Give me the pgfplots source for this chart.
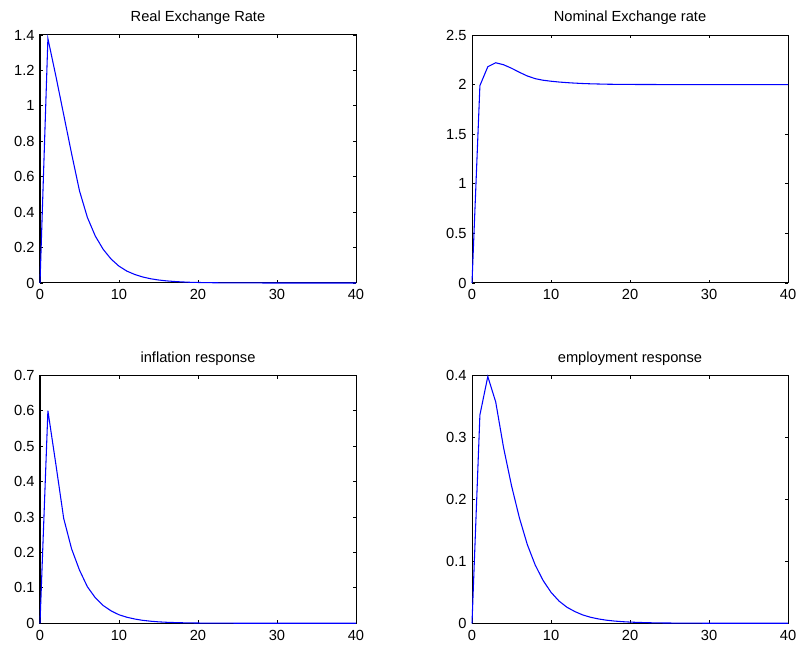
\documentclass[border=0pt]{standalone}
\usepackage{fontspec}
\setmainfont{Liberation Sans}
\usepackage{pgfplots}
\pgfplotsset{compat=1.18}

\pgfplotsset{
  irf/.style={
    scale only axis,
    width=237pt, height=186pt,
    anchor=south west,
    xmin=0, xmax=40,
    xtick={0,10,20,30,40},
    tick align=inside,
    major tick length=2.5pt,
    axis line style={line width=0.75pt},
    every tick/.style={black, line width=0.6pt},
    font=\fontsize{11}{13}\selectfont,
    /pgf/number format/assume math mode=true,
    yticklabel style={/pgf/number format/fixed, xshift=-0.5pt},
    xticklabel style={yshift=-1.5pt},
    title style={yshift=-2pt},
    clip=false,
  },
  resp/.style={blue, line width=0.8pt, mark=none},
}

\begin{document}
\begin{tikzpicture}
\path[use as bounding box] (0,0) rectangle (600pt,488.25pt);

% top left
\begin{axis}[irf, at={(30pt,276pt)}, title={Real Exchange Rate},
  ymin=0, ymax=1.4, ytick={0,0.2,...,1.4}]
\addplot[resp] coordinates {
 (0,0) (1,1.38) (2,1.17) (3,0.95) (4,0.73) (5,0.52) (6,0.37) (7,0.265)
 (8,0.19) (9,0.135) (10,0.095) (11,0.067) (12,0.048) (13,0.034) (14,0.024)
 (15,0.017) (16,0.012) (17,0.0085) (18,0.006) (19,0.004) (20,0.003)
 (21,0.002) (22,0.0015) (23,0.001) (24,0.0007) (25,0.0005) (26,0.0003)
 (27,0.0002) (28,0.0002) (29,0.0001) (30,0.0001) (31,0) (32,0) (33,0)
 (34,0) (35,0) (36,0) (37,0) (38,0) (39,0) (40,0)
};
\end{axis}

% top right
\begin{axis}[irf, at={(354pt,276pt)}, title={Nominal Exchange rate},
  ymin=0, ymax=2.5, ytick={0,0.5,...,2.5}]
\addplot[resp] coordinates {
 (0,0) (1,1.99) (2,2.18) (3,2.22) (4,2.20) (5,2.165) (6,2.124) (7,2.087)
 (8,2.06) (9,2.044) (10,2.034) (11,2.026) (12,2.02) (13,2.015) (14,2.011)
 (15,2.008) (16,2.006) (17,2.004) (18,2.003) (19,2.002) (20,2.002)
 (21,2.001) (22,2.001) (23,2.001) (24,2.0) (25,2.0) (26,2.0) (27,2.0)
 (28,2.0) (29,2.0) (30,2.0) (31,2.0) (32,2.0) (33,2.0) (34,2.0) (35,2.0)
 (36,2.0) (37,2.0) (38,2.0) (39,2.0) (40,2.0)
};
\end{axis}

% bottom left
\begin{axis}[irf, at={(30pt,20.8pt)}, title={inflation response},
  ymin=0, ymax=0.7, ytick={0,0.1,...,0.7}]
\addplot[resp] coordinates {
 (0,0) (1,0.6) (2,0.45) (3,0.296) (4,0.21) (5,0.15) (6,0.103) (7,0.072)
 (8,0.05) (9,0.035) (10,0.024) (11,0.017) (12,0.012) (13,0.0083)
 (14,0.0058) (15,0.004) (16,0.0028) (17,0.002) (18,0.0014) (19,0.001)
 (20,0.0007) (21,0.0005) (22,0.0003) (23,0.0002) (24,0.0002) (25,0.0001)
 (26,0) (27,0) (28,0) (29,0) (30,0) (31,0) (32,0) (33,0) (34,0) (35,0)
 (36,0) (37,0) (38,0) (39,0) (40,0)
};
\end{axis}

% bottom right
\begin{axis}[irf, at={(354pt,20.8pt)}, title={employment response},
  ymin=0, ymax=0.4, ytick={0,0.1,...,0.4}]
\addplot[resp] coordinates {
 (0,0) (1,0.336) (2,0.398) (3,0.357) (4,0.283) (5,0.222) (6,0.17)
 (7,0.127) (8,0.094) (9,0.069) (10,0.05) (11,0.036) (12,0.026) (13,0.019)
 (14,0.0135) (15,0.0097) (16,0.007) (17,0.005) (18,0.0036) (19,0.0026)
 (20,0.0019) (21,0.0014) (22,0.001) (23,0.0007) (24,0.0005) (25,0.0004)
 (26,0.0003) (27,0.0002) (28,0.0001) (29,0.0001) (30,0) (31,0) (32,0)
 (33,0) (34,0) (35,0) (36,0) (37,0) (38,0) (39,0) (40,0)
};
\end{axis}
\end{tikzpicture}
\end{document}
